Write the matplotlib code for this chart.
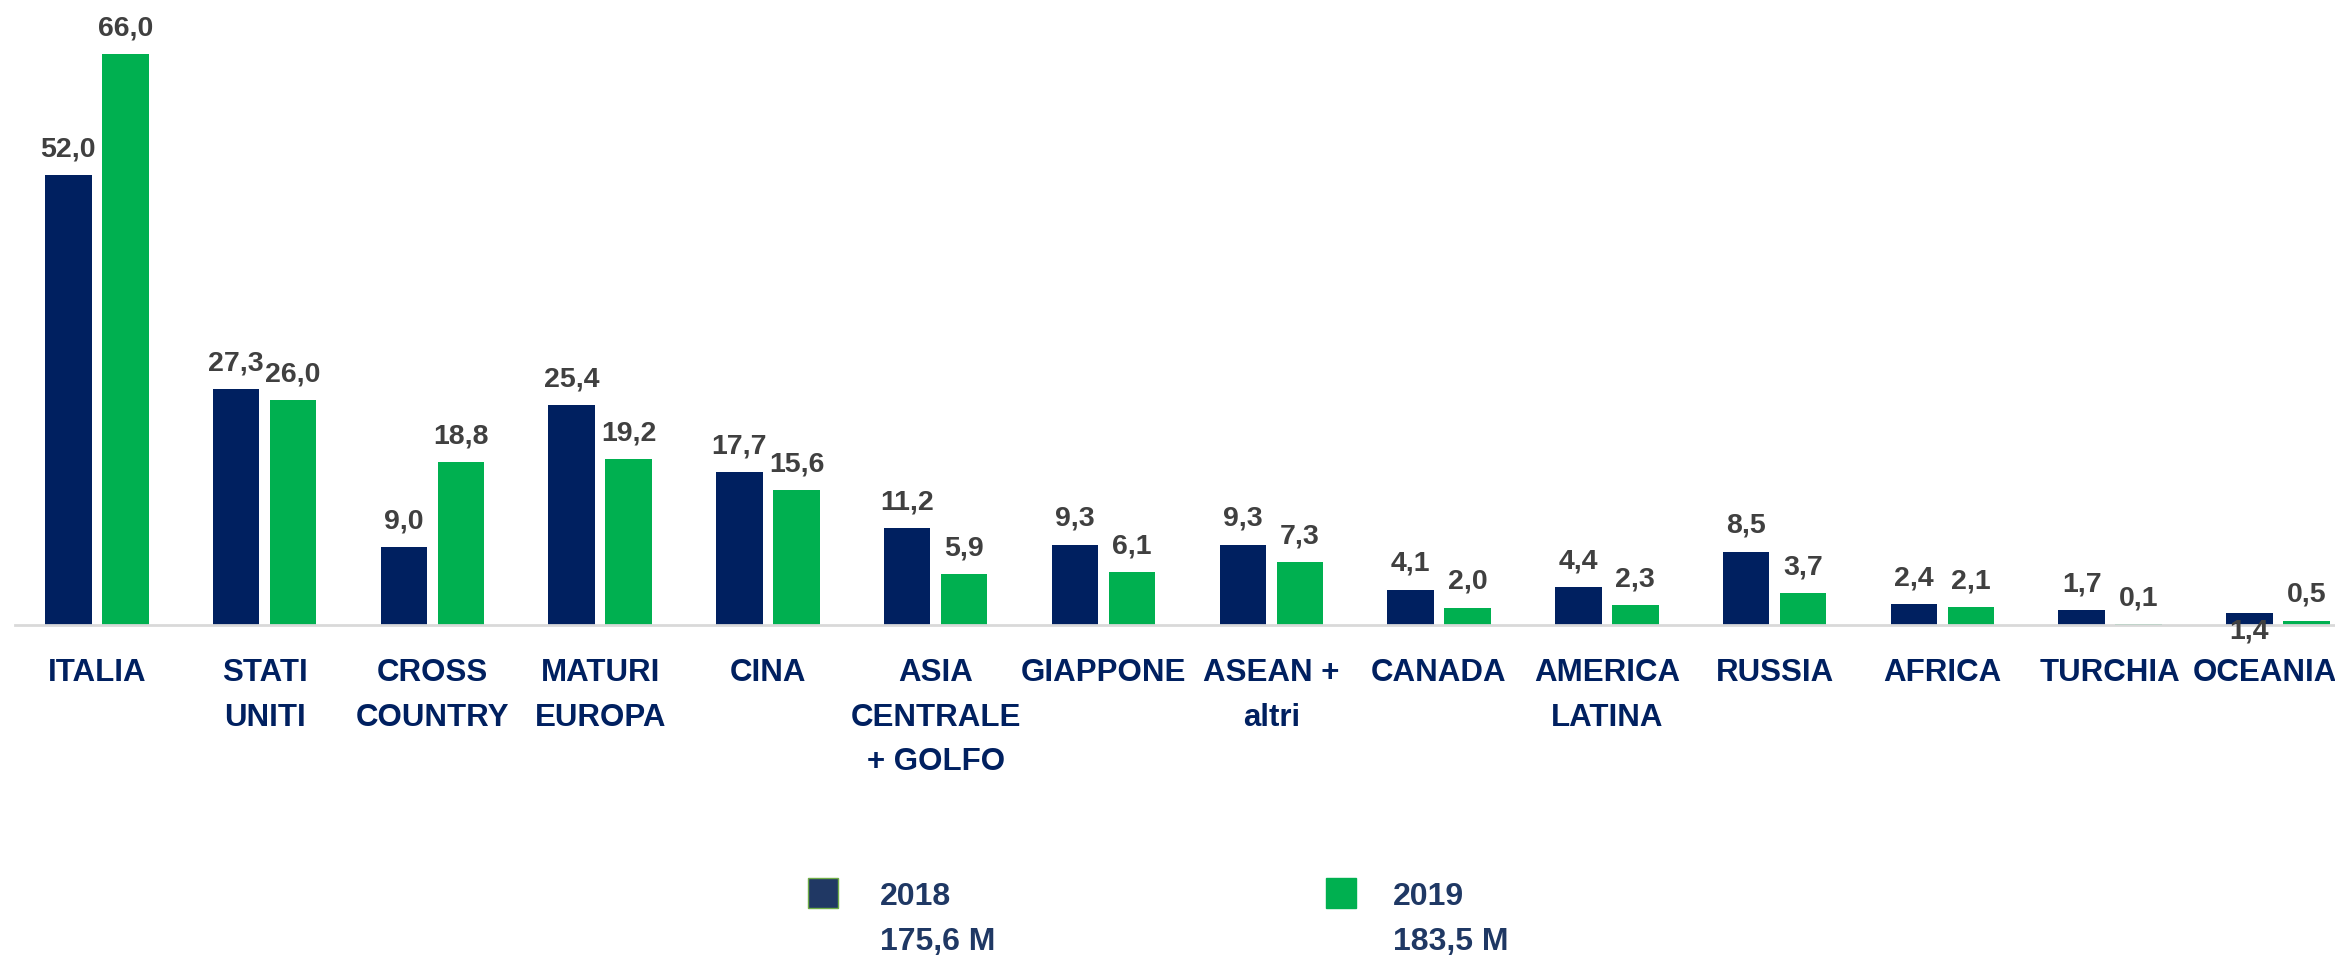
import numpy as np
import matplotlib
matplotlib.use("Agg")
import matplotlib.pyplot as plt
from matplotlib.patches import Rectangle
from matplotlib.transforms import ScaledTranslation

categories = ["ITALIA", "STATI\nUNITI", "CROSS\nCOUNTRY", "MATURI\nEUROPA", "CINA",
              "ASIA\nCENTRALE\n+ GOLFO", "GIAPPONE", "ASEAN +\naltri", "CANADA",
              "AMERICA\nLATINA", "RUSSIA", "AFRICA", "TURCHIA", "OCEANIA"]
val_2018 = [52.0, 27.3, 9.0, 25.4, 17.7, 11.2, 9.3, 9.3, 4.1, 4.4, 8.5, 2.4, 1.7, 1.4]
val_2019 = [66.0, 26.0, 18.8, 19.2, 15.6, 5.9, 6.1, 7.3, 2.0, 2.3, 3.7, 2.1, 0.1, 0.5]
years = ["2018", "2019"]
totals = ["175,6 M", "183,5 M"]

navy = "#002060"
green = "#00B050"
grey_txt = "#404040"
legend_txt = "#1F3864"
FONT = ["Liberation Sans", "DejaVu Sans"]

W, H = 2335, 955
fig = plt.figure(figsize=(W / 100, H / 100), dpi=100)
ax = fig.add_axes([0, 1 - 625 / H, 1, 625 / H])

x = np.arange(len(categories))
w = 0.277
off = 0.17
b1 = ax.bar(x - off, val_2018, w, color=navy)
b2 = ax.bar(x + off, val_2019, w, color=green)

ax.set_xlim(-0.577, 13.34)
ax.set_ylim(0, 72.3)


def fmt(v):
    return f"{v:.1f}".replace(".", ",")


for bars in (b1, b2):
    for i, rect in enumerate(bars):
        h = rect.get_height()
        cx = rect.get_x() + rect.get_width() / 2
        dy = 13.5
        if bars is b1 and i == len(bars) - 1:
            # oceania 2018 label sits under the baseline in the original
            h, dy = 0, -9.5
        ax.annotate(fmt(rect.get_height()), (cx, h), xytext=(0, dy),
                    textcoords="offset points", ha="center", va="baseline",
                    fontsize=20.5, fontweight="bold", color=grey_txt, family=FONT,
                    annotation_clip=False)

ax.set_xticks(x)
ax.set_xticklabels(categories, fontsize=22.5, fontweight="bold", color=navy,
                   family=FONT, linespacing=1.62, va="top")
ax.tick_params(axis="x", length=0, pad=24)
# last label is nudged left so it fits, like in the original
lab = ax.get_xticklabels()[-1]
lab.set_transform(lab.get_transform() + ScaledTranslation(-0.13, 0, fig.dpi_scale_trans))

ax.set_yticks([])
for s in ["top", "right", "left"]:
    ax.spines[s].set_visible(False)
ax.spines["bottom"].set_color("#D9D9D9")
ax.spines["bottom"].set_linewidth(2)
ax.spines["bottom"].set_bounds(-0.488, 13.34)

# legend, drawn by hand so the squares line up with the first text line
sq_x = [808, 1326]
txt_x = [880, 1393]
sq_cols = [("#203864", "#70AD47"), (green, green)]
for k in range(2):
    fig.patches.append(Rectangle((sq_x[k] / W, 1 - 908 / H), 30 / W, 30 / H,
                                 transform=fig.transFigure, facecolor=sq_cols[k][0],
                                 edgecolor=sq_cols[k][1], linewidth=1))
    fig.text(txt_x[k] / W, 1 - 905 / H, years[k], ha="left", va="baseline",
             fontsize=23, fontweight="bold", color=legend_txt, family=FONT)
    fig.text(txt_x[k] / W, 1 - 950 / H, totals[k], ha="left", va="baseline",
             fontsize=23, fontweight="bold", color=legend_txt, family=FONT)

fig.savefig("out.png", dpi=100)
